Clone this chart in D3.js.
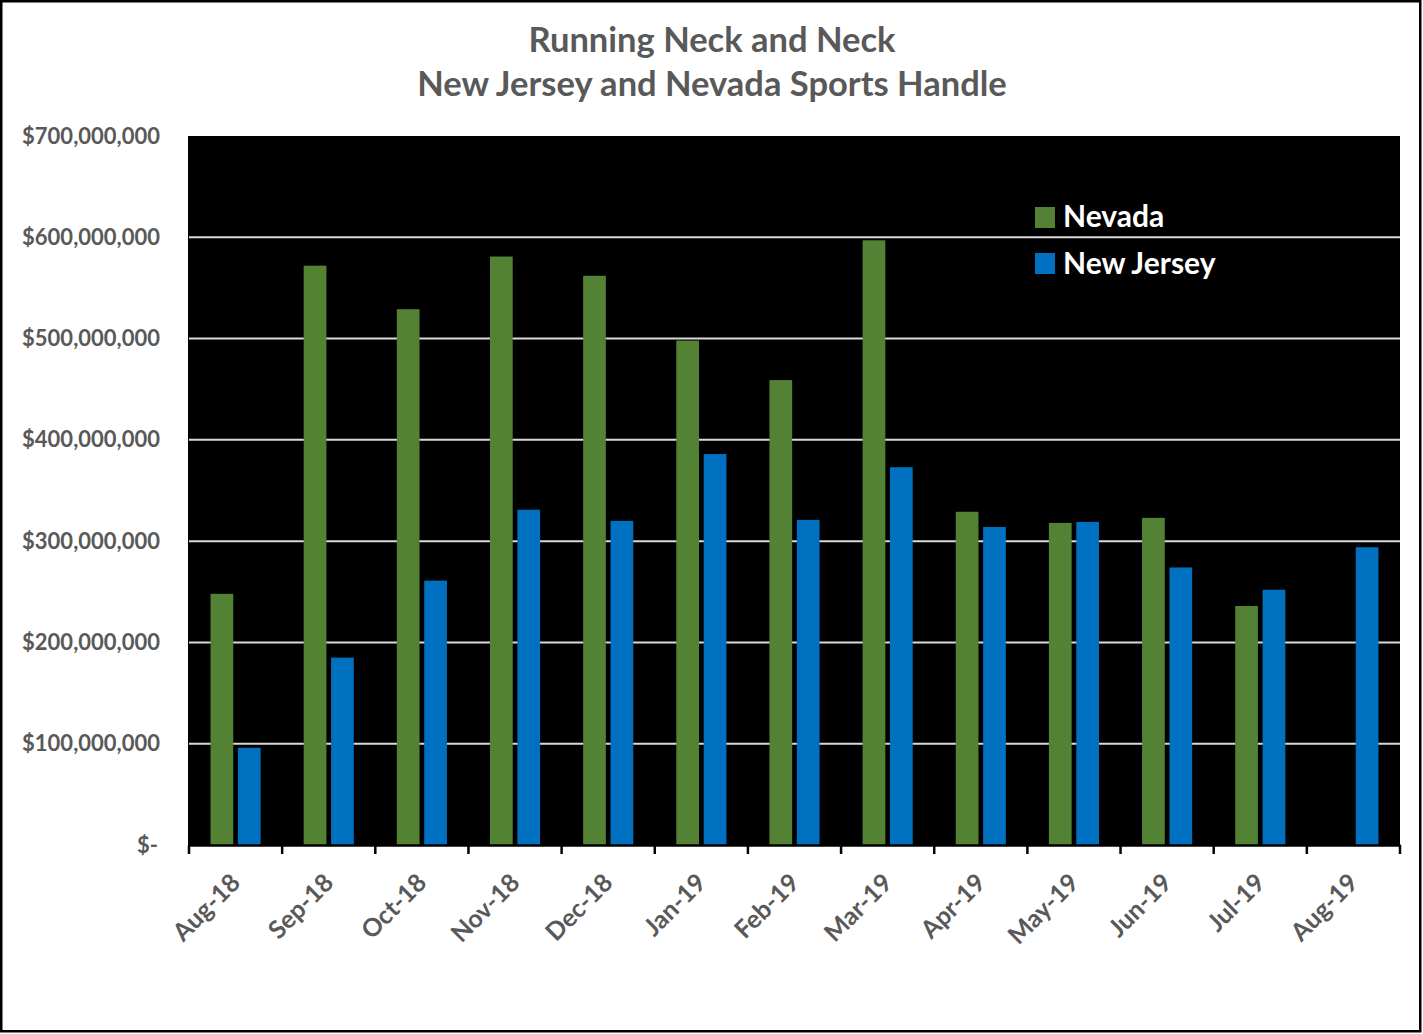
<!DOCTYPE html>
<html><head><meta charset="utf-8">
<script src="https://cdn.jsdelivr.net/npm/d3@7"></script>
<style>body{margin:0;background:#fff}svg{display:block}</style>
</head><body>
<script>
const categories = ["Aug-18","Sep-18","Oct-18","Nov-18","Dec-18","Jan-19","Feb-19","Mar-19","Apr-19","May-19","Jun-19","Jul-19","Aug-19"];
const nevada = [248e6,572e6,529e6,581e6,562e6,498e6,459e6,597e6,329e6,318e6,323e6,236e6,null];
const newJersey = [96e6,185e6,261e6,331e6,320e6,386e6,321e6,373e6,314e6,319e6,274e6,252e6,294e6];
const seriesNames = ["Nevada","New Jersey"];
const seriesColors = ["#548235","#0070c0"];
const yTicks = [0,100e6,200e6,300e6,400e6,500e6,600e6,700e6];
const titleLines = ["Running Neck and Neck","New Jersey and Nevada Sports Handle"];

const W = 1423, H = 1034;
const m = {left:189, right:1400, top:136, bottom:845};
const font = "Lato, 'Open Sans', sans-serif";
const svg = d3.select("body").append("svg").attr("width",W).attr("height",H);
svg.append("rect").attr("width",W).attr("height",H).attr("fill","#fff");
svg.append("rect").attr("x",1.25).attr("y",1.25).attr("width",1419).attr("height",1030)
  .attr("fill","none").attr("stroke","#000").attr("stroke-width",2.5);

const x = d3.scaleBand().domain(categories).range([m.left,m.right]).paddingInner(0).paddingOuter(0);
const y = d3.scaleLinear().domain([0,700e6]).range([m.bottom,m.top]);
const bw = x.bandwidth();
const barW = bw*0.244, gap = bw*0.05;

svg.append("rect").attr("x",m.left-1).attr("y",m.top).attr("width",m.right-m.left+1).attr("height",m.bottom-m.top+1).attr("fill","#000");

// gridlines
svg.append("g").selectAll("line").data(yTicks.filter(d=>d>0 && d<700e6)).join("line")
  .attr("x1",m.left).attr("x2",m.right).attr("y1",d=>y(d)).attr("y2",d=>y(d))
  .attr("stroke","#d9d9d9").attr("stroke-width",2);

// bars
const series = [nevada,newJersey];
series.forEach((vals,si)=>{
  svg.append("g").selectAll("rect").data(categories.map((c,i)=>({c,v:vals[i]})).filter(d=>d.v!=null)).join("rect")
    .attr("x",d=>x(d.c)+bw/2 - barW - gap/2 + si*(barW+gap))
    .attr("y",d=>y(d.v)).attr("width",barW).attr("height",d=>y(0)-y(d.v))
    .attr("fill",seriesColors[si]);
});

// y axis
const fmt = d => d===0 ? "$-" : "$" + d3.format(",")(d);
const ya = svg.append("g").attr("transform",`translate(${m.left-29},0)`)
  .call(d3.axisLeft(y).tickValues(yTicks).tickFormat(fmt).tickSize(0).tickPadding(0));
ya.select(".domain").remove();
ya.selectAll("text").attr("font-family",font).attr("font-weight","bold").attr("font-size","22px").attr("fill","#595959")
  .attr("dx", d=> d===0 ? -2 : 0);

// x axis
const xa = svg.append("g").attr("transform",`translate(0,${m.bottom})`)
  .call(d3.axisBottom(x).tickSize(0).tickFormat(""));
xa.select(".domain").attr("stroke","#000").attr("stroke-width",2.5);
svg.append("g").selectAll("line").data(categories.concat(["end"])).join("line")
  .attr("x1",(d,i)=> i<categories.length ? x(d) : m.right).attr("x2",(d,i)=> i<categories.length ? x(d) : m.right)
  .attr("y1",m.bottom).attr("y2",m.bottom+9).attr("stroke","#000").attr("stroke-width",2.5);
svg.append("g").selectAll("text").data(categories).join("text")
  .attr("transform",d=>`translate(${x(d)+bw/2},${m.bottom+33}) rotate(-45)`)
  .attr("text-anchor","end").attr("dy","0.35em")
  .attr("font-family",font).attr("font-weight","bold").attr("font-size","25px").attr("fill","#595959")
  .text(d=>d);

// title
svg.append("g").selectAll("text").data(titleLines).join("text")
  .attr("x",712).attr("y",(d,i)=>52+i*44).attr("text-anchor","middle")
  .attr("font-family",font).attr("font-weight","bold").attr("font-size","34.5px").attr("fill","#595959")
  .text(d=>d);

// legend
const lg = svg.append("g");
seriesNames.forEach((n,i)=>{
  lg.append("rect").attr("x",1035).attr("y",207+i*46).attr("width",20).attr("height",21).attr("fill",seriesColors[i]);
  lg.append("text").attr("x",1063).attr("y",227+i*47).attr("font-family",font).attr("font-weight","bold")
    .attr("font-size","30px").attr("fill","#fff").text(n);
});
</script>
</body></html>
